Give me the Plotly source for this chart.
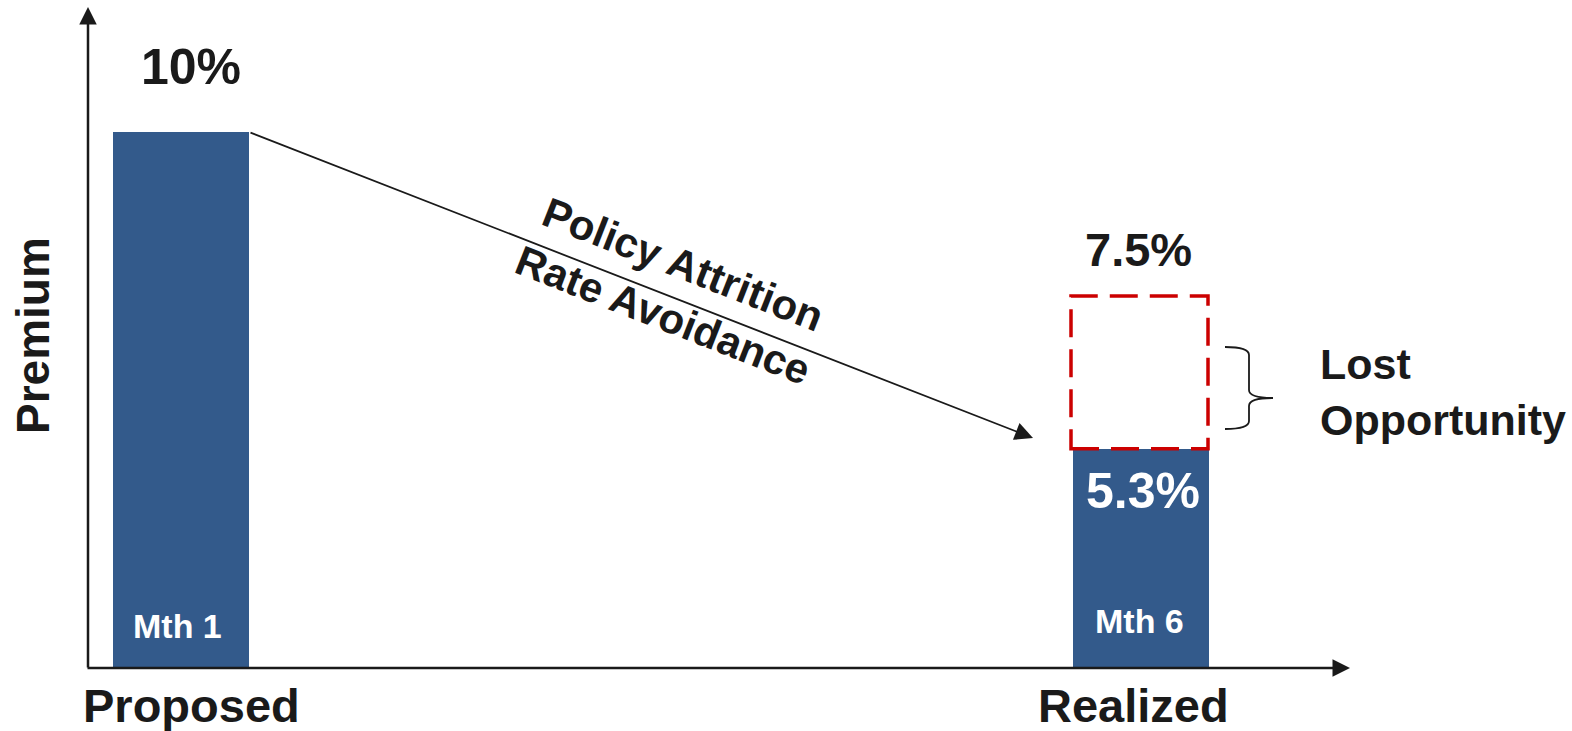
import plotly.graph_objects as go

# ---- data ----
categories = ["Proposed", "Realized"]
month_labels = ["Mth 1", "Mth 6"]
premium_height = [10.0, 4.09]          # bar heights (premium units)
value_labels = ["10%", "5.3%"]
opportunity_top = 6.94                 # top of the dashed "lost opportunity" box
opportunity_label = "7.5%"
y_axis_title = "Premium"
arrow_label = "Policy Attrition<br>Rate Avoidance"
brace_label = "Lost<br>Opportunity"

# ---- geometry helpers (pixel -> axis units) ----
W, H = 1572, 731
X0, XS = 181.0, 960.0
Y0, YS = 668.0, 53.6
def dx(p): return (p - X0) / XS
def dy(p): return (Y0 - p) / YS

xpos = [0, 1]
bar_w = 136 / XS
BLUE = "#335A8B"
INK = "#1a1a1a"
FONT = "Liberation Sans, Arial, sans-serif"

fig = go.Figure()
fig.add_trace(go.Bar(x=xpos, y=premium_height, width=bar_w,
                     marker=dict(color=BLUE, line=dict(width=0)),
                     hoverinfo="skip", showlegend=False))

ann = []
# axes arrows
ann.append(dict(x=dx(88), y=dy(7), ax=dx(88), ay=dy(669), xref="x", yref="y",
                axref="x", ayref="y", text="", showarrow=True, arrowhead=2,
                arrowsize=1.4, arrowwidth=2.5, arrowcolor=INK, standoff=0))
ann.append(dict(x=dx(1350), y=0, ax=dx(86), ay=0, xref="x", yref="y",
                axref="x", ayref="y", text="", showarrow=True, arrowhead=2,
                arrowsize=1.4, arrowwidth=2.5, arrowcolor=INK, standoff=0))
# main diagonal arrow
ann.append(dict(x=dx(1033), y=dy(438), ax=xpos[0] + bar_w / 2, ay=premium_height[0],
                xref="x", yref="y", axref="x", ayref="y", text="", showarrow=True,
                arrowhead=2, arrowsize=2.0, arrowwidth=1.8, arrowcolor=INK, standoff=0))

def label(text, x, y, size, color=INK, **kw):
    d = dict(x=x, y=y, xref="x", yref="y", text=text, showarrow=False,
             font=dict(family=FONT, size=size, color=color),
             xanchor="center", yanchor="middle")
    d.update(kw)
    ann.append(d)

label("<b>%s</b>" % value_labels[0], dx(191), dy(67), 50)
label("<b>%s</b>" % opportunity_label, dx(1138), dy(249), 47)
label("<b>%s</b>" % value_labels[1], dx(1143), dy(491), 50, color="white")
label("<b>%s</b>" % month_labels[0], dx(177), dy(626), 34, color="white")
label("<b>%s</b>" % month_labels[1], dx(1139), dy(621), 34, color="white")
label("<b>%s</b>" % categories[0], dx(191), dy(705), 47)
label("<b>%s</b>" % categories[1], dx(1133), dy(705), 47)
label("<b>%s</b>" % y_axis_title, dx(33), dy(336), 46, textangle=-90)
label("<b>%s</b>" % arrow_label, dx(673), dy(290), 42, textangle=21.4)
label("<b>%s</b>" % brace_label, dx(1318), dy(392), 43, xanchor="left", align="left")

shapes = []
# dashed lost-opportunity box
shapes.append(dict(type="rect", xref="x", yref="y",
                   x0=xpos[1] - bar_w / 2 - 2 / XS, x1=xpos[1] + bar_w / 2 - 1 / XS,
                   y0=premium_height[1], y1=opportunity_top,
                   line=dict(color="#CC0000", width=3.5, dash="28px,12px"),
                   fillcolor="rgba(0,0,0,0)"))
# brace
def P(px, py): return "%.5f,%.5f" % (dx(px), dy(py))
brace = ("M " + P(1225, 347) + " Q " + P(1249, 347) + " " + P(1249, 355) +
         " L " + P(1249, 390) + " Q " + P(1249, 398) + " " + P(1273, 398) +
         " Q " + P(1249, 398) + " " + P(1249, 406) +
         " L " + P(1249, 421) + " Q " + P(1249, 429) + " " + P(1225, 429))
shapes.append(dict(type="path", xref="x", yref="y", path=brace,
                   line=dict(color=INK, width=1.8)))

fig.update_layout(
    width=W, height=H, margin=dict(l=0, r=0, t=0, b=0),
    paper_bgcolor="white", plot_bgcolor="white",
    xaxis=dict(range=[dx(0), dx(W)], visible=False, fixedrange=True),
    yaxis=dict(range=[dy(H), dy(0)], visible=False, fixedrange=True),
    annotations=ann, shapes=shapes, bargap=0,
)
fig.write_html("out.html")
